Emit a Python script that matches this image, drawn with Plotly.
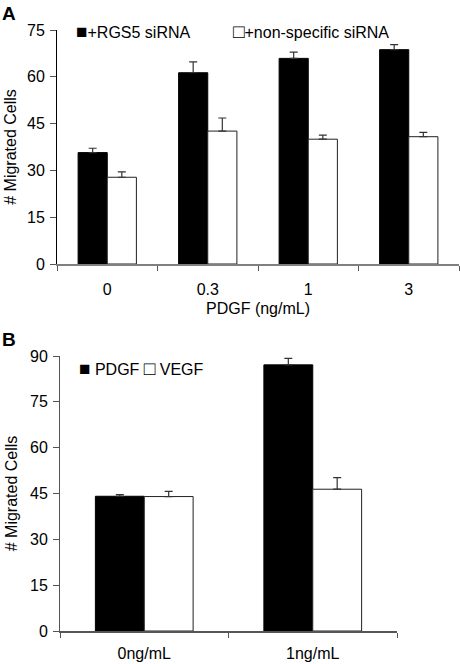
import plotly.graph_objects as go

# Panel A data
a_categories = ["0", "0.3", "1", "3"]
a_rgs5 = [35.7, 61.3, 65.9, 68.7]
a_rgs5_err = [1.4, 3.5, 2.0, 1.6]
a_nonspec = [27.8, 42.6, 40.0, 40.8]
a_nonspec_err = [1.7, 4.2, 1.3, 1.4]
a_yticks = [0, 15, 30, 45, 60, 75]

# Panel B data
b_categories = ["0ng/mL", "1ng/mL"]
b_pdgf = [44.1, 87.1]
b_pdgf_err = [0.5, 2.1]
b_vegf = [44.0, 46.4]
b_vegf_err = [1.7, 3.8]
b_yticks = [0, 15, 30, 45, 60, 75, 90]

FONT = "Liberation Sans, Arial, sans-serif"
W, H = 460, 664


def err(vals):
    return dict(type="data", array=vals, arrayminus=[0] * len(vals), symmetric=False,
                color="#333333", thickness=1.2, width=4)


fig = go.Figure()
fig.add_trace(go.Bar(x=a_categories, y=a_rgs5, name="+RGS5 siRNA", marker=dict(color="black", line=dict(color="black", width=1)),
                     error_y=err(a_rgs5_err), xaxis="x", yaxis="y", showlegend=False))
fig.add_trace(go.Bar(x=a_categories, y=a_nonspec, name="+non-specific siRNA", marker=dict(color="white", line=dict(color="#222222", width=1)),
                     error_y=err(a_nonspec_err), xaxis="x", yaxis="y", showlegend=False))
fig.add_trace(go.Bar(x=b_categories, y=b_pdgf, name="PDGF", marker=dict(color="black", line=dict(color="black", width=1)),
                     error_y=err(b_pdgf_err), xaxis="x2", yaxis="y2", showlegend=False))
fig.add_trace(go.Bar(x=b_categories, y=b_vegf, name="VEGF", marker=dict(color="white", line=dict(color="#222222", width=1)),
                     error_y=err(b_vegf_err), xaxis="x2", yaxis="y2", showlegend=False))

axis_font = dict(family=FONT, size=16, color="black")
SQ = '<span style="font-size:19px">{}</span>'

fig.update_layout(
    template="none",
    width=W, height=H,
    margin=dict(l=0, r=0, t=0, b=0, pad=0),
    paper_bgcolor="white", plot_bgcolor="white",
    barmode="group", bargap=0.42, bargroupgap=0,
    font=axis_font,
    xaxis=dict(type="category", domain=[57 / W, 459 / W], anchor="y", automargin=False, showline=True,
               linecolor="#808080", linewidth=1.5, ticklabelstandoff=10,
               ticks="outside", tickson="boundaries", ticklen=5, tickcolor="#555555", tickfont=axis_font,
               title=dict(text="PDGF (ng/mL)", font=axis_font, standoff=6), showgrid=False, zeroline=False),
    yaxis=dict(domain=[(H - 264) / H, (H - 30) / H], anchor="x", automargin=False, range=[0, 75], tickvals=a_yticks,
               showline=True, linecolor="black", linewidth=1, ticks="outside", ticklen=6, tickcolor="#555555",
               tickfont=axis_font, showgrid=False, zeroline=False, ticklabelstandoff=2,
               title=dict(text="# Migrated Cells", font=axis_font, standoff=6)),
    xaxis2=dict(type="category", domain=[60 / W, 397 / W], anchor="y2", automargin=False, showline=True,
                linecolor="#555555", linewidth=1.5, ticklabelstandoff=7,
                ticks="outside", tickson="boundaries", ticklen=5, tickcolor="#555555", tickfont=axis_font,
                showgrid=False, zeroline=False),
    yaxis2=dict(domain=[(H - 631) / H, (H - 356) / H], anchor="x2", automargin=False, range=[0, 90], tickvals=b_yticks,
                showline=True, linecolor="#555555", linewidth=1, ticks="outside", ticklen=6, tickcolor="#555555",
                tickfont=axis_font, showgrid=False, zeroline=False, ticklabelstandoff=2,
                title=dict(text="# Migrated Cells", font=axis_font, standoff=8)),
    annotations=[
        dict(text="<b>A</b>", x=0, y=1 - 1 / H, xref="paper", yref="paper", xanchor="left", yanchor="top",
             showarrow=False, font=dict(family=FONT, size=19, color="black")),
        dict(text="<b>B</b>", x=0, y=1 - 327 / H, xref="paper", yref="paper", xanchor="left", yanchor="top",
             showarrow=False, font=dict(family=FONT, size=19, color="black")),
        dict(text=SQ.format("■") + "+RGS5 siRNA", x=74 / W, y=1 - 31 / H, xref="paper", yref="paper", xanchor="left",
             yanchor="middle", showarrow=False, font=axis_font),
        dict(text=SQ.format("□") + "+non-specific siRNA", x=231 / W, y=1 - 31 / H, xref="paper", yref="paper",
             xanchor="left", yanchor="middle", showarrow=False, font=axis_font),
        dict(text=SQ.format("■") + " PDGF " + SQ.format("□") + " VEGF", x=77 / W, y=1 - 368 / H, xref="paper",
             yref="paper", xanchor="left", yanchor="middle", showarrow=False, font=axis_font),
    ],
)

fig.write_html("out.html", config={"displayModeBar": False},
               post_script="document.body.style.margin='0px';document.body.style.overflow='hidden';")
